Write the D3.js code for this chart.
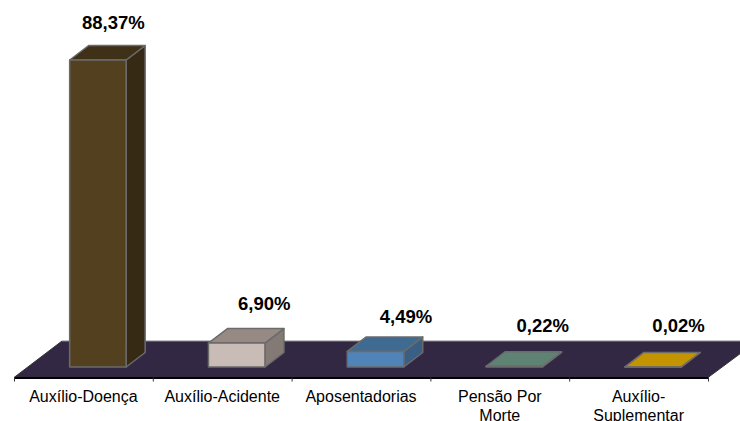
<!DOCTYPE html>
<html>
<head>
<meta charset="utf-8">
<script src="https://d3js.org/d3.v7.min.js"></script>
<style>
	html, body { margin: 0; padding: 0; background: #fff; overflow: hidden; }
	svg { display: block; font-family: "Liberation Sans", Arial, sans-serif; }
</style>
</head>
<body>
<svg></svg>
<script>
let categories = ["Auxílio-Doença", "Auxílio-Acidente", "Aposentadorias", "Pensão Por Morte", "Auxílio-Suplementar"];
let values = [88.37, 6.90, 4.49, 0.22, 0.02];
let valueLabels = ["88,37%", "6,90%", "4,49%", "0,22%", "0,02%"];

let frontColors = ["#52401f", "#c9bbb5", "#5083b8", "#5e8274", "#c39300"];
let topColors = ["#3f3018", "#978a84", "#3f6a91", "#5e8274", "#c39300"];
let sideColors = ["#362a14", "#847a75", "#3a5f84", "#5e8274", "#c39300"];

let width = 740;
let height = 421;

// depth of the bars and of the floor, in pixels
let depthX = 19, depthY = 14.5;
let floorY = 377.5, barBase = 367;
// bars stand a bit behind the front edge of the floor
let barShift = 14.5;

let svg = d3.select("svg").attr("width", width).attr("height", height);

let x = d3.scaleBand().domain(categories).range([14, 708]).paddingInner(0.593).paddingOuter(0.2965);
let edges = d3.scaleLinear().domain([0, categories.length]).range([14, 708]);
let y = d3.scaleLinear().domain([0, 100]).range([barBase, barBase - 347.4]);

// floor
let floorLine = d3.line();
svg.append("path")
	.attr("d", floorLine([[14, floorY], [708, floorY], [741, 353], [741, 341], [62, 341]]) + "Z")
	.attr("fill", "#332844");
svg.append("line")
	.attr("x1", 62).attr("x2", 741).attr("y1", 341).attr("y2", 341)
	.attr("stroke", "#8a8a8a").attr("stroke-width", 1);
svg.append("path")
	.attr("d", floorLine([[14, floorY], [62, 341]]))
	.attr("stroke", "#333").attr("fill", "none");
svg.append("path")
	.attr("d", floorLine([[708, floorY], [741, 353]]))
	.attr("stroke", "#333").attr("fill", "none");

// axis line and ticks on the category edges
let axisEdges = d3.axisBottom(edges)
	.tickValues(d3.range(categories.length + 1))
	.tickFormat("")
	.tickSize(4)
	.tickSizeOuter(0);
let edgeG = svg.append("g").attr("transform", `translate(0,${floorY})`).call(axisEdges);
edgeG.select(".domain").attr("stroke", "#000").attr("stroke-width", 2);
edgeG.selectAll("line").attr("stroke", "#333").attr("stroke-width", 1);

// category labels
let axisLabels = d3.axisBottom(x).tickSize(0).tickPadding(13.5);
let labelG = svg.append("g").attr("transform", `translate(0,${floorY})`).call(axisLabels);
labelG.select(".domain").remove();
labelG.selectAll("text")
	.attr("font-size", 16)
	.attr("font-family", "Liberation Sans, Arial, sans-serif")
	.attr("fill", "#000")
	.call(wrap, 120);

// bars
let bars = svg.append("g").attr("transform", `translate(${barShift},0)`)
	.selectAll("g").data(categories).enter().append("g");

bars.append("path") // side
	.attr("d", function(d, i) {
		let r = x(d) + x.bandwidth(), t = y(values[i]);
		return floorLine([[r, barBase], [r + depthX, barBase - depthY], [r + depthX, t - depthY], [r, t]]) + "Z";
	})
	.attr("fill", function(d, i) { return sideColors[i]; });

bars.append("path") // top
	.attr("d", function(d, i) {
		let l = x(d), r = l + x.bandwidth(), t = y(values[i]);
		return floorLine([[l, t], [l + depthX, t - depthY], [r + depthX, t - depthY], [r, t]]) + "Z";
	})
	.attr("fill", function(d, i) { return topColors[i]; });

bars.append("rect") // front
	.attr("x", function(d) { return x(d); })
	.attr("y", function(d, i) { return y(values[i]); })
	.attr("width", x.bandwidth())
	.attr("height", function(d, i) { return barBase - y(values[i]); })
	.attr("fill", function(d, i) { return frontColors[i]; });

bars.selectAll("path, rect")
	.attr("stroke", "#6b6b6b")
	.attr("stroke-width", 1.5)
	.attr("stroke-linejoin", "round");

// value labels, hand placed in the original so the nudges are not regular
let nudgeX = [15.5, 27.5, 30.5, 28.5, 25.5];
let nudgeY = [17, 18.5, 13.5, 20, 20];
bars.append("text")
	.attr("x", function(d, i) { return x(d) + x.bandwidth() / 2 + nudgeX[i]; })
	.attr("y", function(d, i) { return y(values[i]) - depthY - nudgeY[i]; })
	.attr("text-anchor", "middle")
	.attr("font-size", 18.5)
	.attr("font-weight", "bold")
	.attr("fill", "#000")
	.text(function(d, i) { return valueLabels[i]; });

function wrap(text, maxWidth) {
	text.each(function() {
		let t = d3.select(this);
		// break after spaces and hyphens
		let words = t.text().match(/[^\s-]+[\s-]?/g);
		let lineY = t.attr("y"), dy = parseFloat(t.attr("dy"));
		t.text(null);
		let line = "", n = 0;
		let span = t.append("tspan").attr("x", 0).attr("y", lineY).attr("dy", dy + "em");
		words.forEach(function(w) {
			span.text(line + w);
			if (span.node().getComputedTextLength() > maxWidth && line) {
				span.text(line.trim());
				line = "";
				n++;
				span = t.append("tspan").attr("x", 0).attr("y", lineY).attr("dy", (dy + n * 1.15) + "em").text(w);
			}
			line += w;
		});
	});
}
</script>
</body>
</html>
